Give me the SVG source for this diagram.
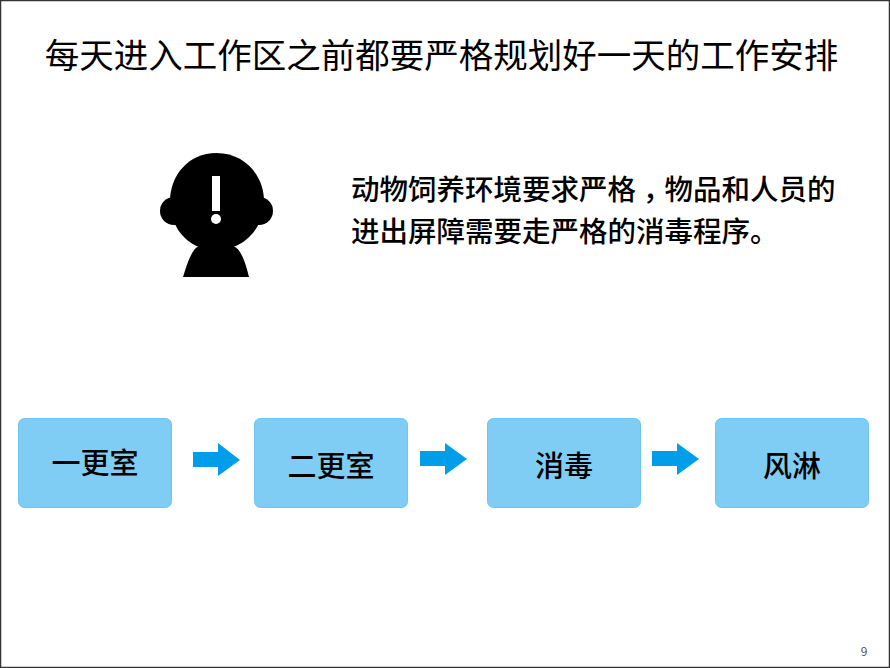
<svg xmlns="http://www.w3.org/2000/svg" width="890" height="668" viewBox="0 0 890 668">
<defs><style>
text{font-family:"Noto Sans CJK SC","Noto Sans",sans-serif;fill:#000}
.box{fill:#7fcdf5;stroke:#6cc5f2;stroke-width:1}
.lbl{font-size:29px;text-anchor:middle;font-weight:500}
.ar{fill:#009ee8}
</style></defs>
<rect x="0.5" y="0.5" width="889" height="667" fill="#fff" stroke="#333" stroke-width="1.5"/>
<text id="title" x="441.500" y="68" font-size="34.500" text-anchor="middle">每天进入工作区之前都要严格规划好一天的工作安排</text>
<g id="icon">
<circle cx="174" cy="211" r="14"/><circle cx="259" cy="211" r="14"/>
<path d="M216.500 153C245 153 264 176 264 201C264 224 250 241 233 247H199C183 241 170 224 170 201C170 176 188 153 216.500 153Z"/>
<path d="M183 277C188 260 193 248 199 246H233C240 248 245 260 249 277Z"/>
<rect x="212" y="176" width="8" height="35" fill="#fff"/><circle cx="216" cy="219" r="5" fill="#fff"/>
</g>
<g id="note" font-size="28.500" font-weight="500">
<text x="351" y="200">动物饲养环境要求严格<tspan font-family="Noto Sans CJK TC" dy="9">，</tspan><tspan dy="-9">物品和人员的</tspan></text>
<text x="351" y="242">进出屏障需要走严格的消毒程序。</text>
</g>
<g id="n1"><rect class="box" x="18.500" y="418.500" width="153" height="89" rx="6"/><text class="lbl" x="95" y="474">一更室</text></g>
<g id="n2"><rect class="box" x="254.500" y="418.500" width="153" height="89" rx="6"/><text class="lbl" x="331" y="477">二更室</text></g>
<g id="n3"><rect class="box" x="487.500" y="418.500" width="153" height="89" rx="6"/><text class="lbl" x="564" y="477">消毒</text></g>
<g id="n4"><rect class="box" x="715.500" y="418.500" width="153" height="89" rx="6"/><text class="lbl" x="792" y="477">风淋</text></g>
<g id="connectors">
<path class="ar" d="M193 452H218V443L240 460 218 476V467H193Z"/>
<path class="ar" d="M420 451H445V443L467 459 445 475V466H420Z"/>
<path class="ar" d="M652 451H677V443L699 459 677 475V466H652Z"/>
</g>
<text id="page" x="864" y="656" font-size="12" text-anchor="middle" style="fill:#555">9</text>
</svg>
